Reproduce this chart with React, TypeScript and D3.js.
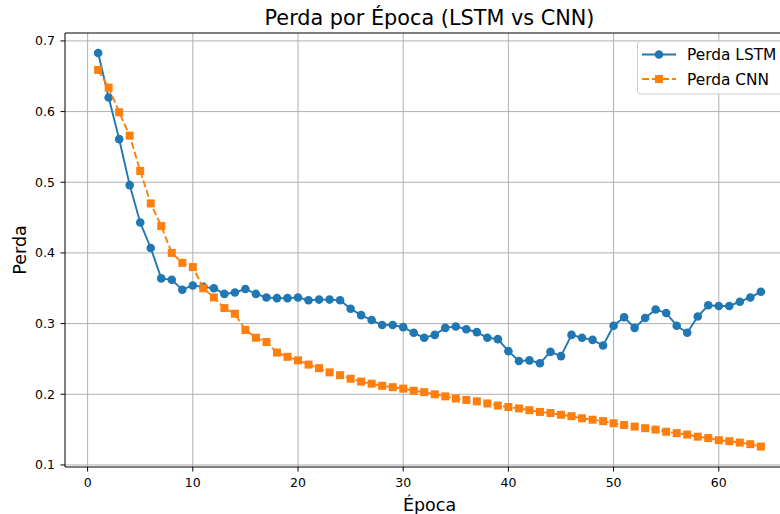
import React, { useEffect, useRef } from "react";
import * as d3 from "d3";

// epochs 1..64
const epochs = d3.range(1, 65);

const lstmLoss = [
  0.683, 0.620, 0.561, 0.496, 0.443, 0.407, 0.364, 0.362, 0.348, 0.354,
  0.352, 0.350, 0.342, 0.344, 0.349, 0.342, 0.337, 0.336, 0.336, 0.337,
  0.333, 0.334, 0.334, 0.333, 0.321, 0.312, 0.305, 0.298, 0.298, 0.295,
  0.287, 0.280, 0.284, 0.294, 0.296, 0.292, 0.288, 0.280, 0.278, 0.261,
  0.247, 0.248, 0.244, 0.260, 0.254, 0.284, 0.280, 0.277, 0.269, 0.297,
  0.309, 0.294, 0.308, 0.320, 0.315, 0.297, 0.287, 0.310, 0.326, 0.325,
  0.325, 0.331, 0.337, 0.345,
];

const cnnLoss = [
  0.659, 0.634, 0.599, 0.566, 0.516, 0.470, 0.438, 0.400, 0.386, 0.380,
  0.350, 0.337, 0.322, 0.314, 0.291, 0.280, 0.274, 0.259, 0.253, 0.248,
  0.242, 0.237, 0.231, 0.227, 0.222, 0.218, 0.215, 0.212, 0.210, 0.208,
  0.205, 0.203, 0.200, 0.197, 0.194, 0.192, 0.190, 0.187, 0.184, 0.182,
  0.180, 0.1775, 0.175, 0.1735, 0.171, 0.169, 0.166, 0.164, 0.162, 0.159,
  0.1565, 0.1543, 0.152, 0.150, 0.147, 0.145, 0.143, 0.140, 0.138, 0.135,
  0.1336, 0.1317, 0.1294, 0.126,
];

const xTicks = [0, 10, 20, 30, 40, 50, 60];
const yTicks = [0.1, 0.2, 0.3, 0.4, 0.5, 0.6, 0.7];

const BLUE = "#1f77b4";
const ORANGE = "#ff7f0e";
const FONT = "DejaVu Sans, sans-serif";

const App = () => {
  const ref = useRef<SVGSVGElement>(null);

  useEffect(() => {
    document.body.style.margin = "0";
    const svg = d3.select(ref.current);
    svg.selectAll("*").remove();

    const width = 780;
    const height = 514;
    const plot = { left: 65, right: 794, top: 33, bottom: 467 };

    const x = d3.scaleLinear().domain([-2.15, 67.15]).range([plot.left, plot.right]);
    const y = d3.scaleLinear().domain([0.0971, 0.7112]).range([plot.bottom, plot.top]);

    svg.attr("width", width).attr("height", height);

    // grid
    const grid = svg.append("g");
    grid.selectAll("line.gx")
      .data(xTicks)
      .enter()
      .append("line")
      .attr("x1", d => x(d))
      .attr("x2", d => x(d))
      .attr("y1", plot.top)
      .attr("y2", plot.bottom)
      .attr("stroke", "#b0b0b0")
      .attr("stroke-width", 1);
    grid.selectAll("line.gy")
      .data(yTicks)
      .enter()
      .append("line")
      .attr("x1", plot.left)
      .attr("x2", plot.right)
      .attr("y1", d => y(d))
      .attr("y2", d => y(d))
      .attr("stroke", "#b0b0b0")
      .attr("stroke-width", 1);

    // lines
    const line = d3.line<number>()
      .x((_, i) => x(epochs[i]))
      .y(d => y(d));

    svg.append("path")
      .datum(lstmLoss)
      .attr("d", line)
      .attr("fill", "none")
      .attr("stroke", BLUE)
      .attr("stroke-width", 1.9);

    svg.selectAll("circle.lstm")
      .data(lstmLoss)
      .enter()
      .append("circle")
      .attr("cx", (_, i) => x(epochs[i]))
      .attr("cy", d => y(d))
      .attr("r", 4.3)
      .attr("fill", BLUE);

    svg.append("path")
      .datum(cnnLoss)
      .attr("d", line)
      .attr("fill", "none")
      .attr("stroke", ORANGE)
      .attr("stroke-width", 1.9)
      .attr("stroke-dasharray", "7,3");

    const sq = 8;
    svg.selectAll("rect.cnn")
      .data(cnnLoss)
      .enter()
      .append("rect")
      .attr("x", (_, i) => x(epochs[i]) - sq / 2)
      .attr("y", d => y(d) - sq / 2)
      .attr("width", sq)
      .attr("height", sq)
      .attr("fill", ORANGE);

    // spines
    svg.append("line")
      .attr("x1", plot.left).attr("x2", plot.right)
      .attr("y1", plot.bottom).attr("y2", plot.bottom)
      .attr("stroke", "black").attr("stroke-width", 1);
    svg.append("line")
      .attr("x1", plot.left).attr("x2", plot.right)
      .attr("y1", plot.top).attr("y2", plot.top)
      .attr("stroke", "black").attr("stroke-width", 1);
    svg.append("line")
      .attr("x1", plot.left).attr("x2", plot.left)
      .attr("y1", plot.top).attr("y2", plot.bottom)
      .attr("stroke", "black").attr("stroke-width", 1);

    // ticks
    xTicks.forEach(t => {
      svg.append("line")
        .attr("x1", x(t)).attr("x2", x(t))
        .attr("y1", plot.bottom).attr("y2", plot.bottom + 4.5)
        .attr("stroke", "black");
      svg.append("text")
        .attr("x", x(t))
        .attr("y", plot.bottom + 20)
        .attr("text-anchor", "middle")
        .attr("font-family", FONT)
        .attr("font-size", 12.5)
        .text(t);
    });
    yTicks.forEach(t => {
      svg.append("line")
        .attr("x1", plot.left - 4.5).attr("x2", plot.left)
        .attr("y1", y(t)).attr("y2", y(t))
        .attr("stroke", "black");
      svg.append("text")
        .attr("x", plot.left - 10)
        .attr("y", y(t) + 4.5)
        .attr("text-anchor", "end")
        .attr("font-family", FONT)
        .attr("font-size", 12.5)
        .text(d3.format(".1f")(t));
    });

    // labels
    svg.append("text")
      .attr("x", (plot.left + plot.right) / 2)
      .attr("y", 25)
      .attr("text-anchor", "middle")
      .attr("font-family", FONT)
      .attr("font-size", 20.8)
      .text("Perda por Época (LSTM vs CNN)");
    svg.append("text")
      .attr("x", (plot.left + plot.right) / 2)
      .attr("y", 511)
      .attr("text-anchor", "middle")
      .attr("font-family", FONT)
      .attr("font-size", 17.5)
      .text("Época");
    svg.append("text")
      .attr("transform", `translate(26,${(plot.top + plot.bottom) / 2}) rotate(-90)`)
      .attr("text-anchor", "middle")
      .attr("font-family", FONT)
      .attr("font-size", 17.5)
      .text("Perda");

    // legend
    const lg = svg.append("g");
    lg.append("rect")
      .attr("x", 637.5).attr("y", 41)
      .attr("width", 160).attr("height", 53)
      .attr("rx", 3)
      .attr("fill", "white").attr("fill-opacity", 0.8)
      .attr("stroke", "#cccccc");
    const items = [
      { label: "Perda LSTM", color: BLUE, dash: null, shape: "circle" },
      { label: "Perda CNN", color: ORANGE, dash: "7,3", shape: "square" },
    ];
    items.forEach((it, i) => {
      const cy = 54.5 + i * 24.5;
      lg.append("line")
        .attr("x1", 642).attr("x2", 676)
        .attr("y1", cy).attr("y2", cy)
        .attr("stroke", it.color)
        .attr("stroke-width", 1.9)
        .attr("stroke-dasharray", it.dash);
      if (it.shape === "circle") {
        lg.append("circle").attr("cx", 659).attr("cy", cy).attr("r", 4.3).attr("fill", it.color);
      } else {
        lg.append("rect").attr("x", 659 - sq / 2).attr("y", cy - sq / 2)
          .attr("width", sq).attr("height", sq).attr("fill", it.color);
      }
      lg.append("text")
        .attr("x", 687)
        .attr("y", cy + 5.5)
        .attr("font-family", FONT)
        .attr("font-size", 15.4)
        .text(it.label);
    });
  }, []);

  return <svg ref={ref} style={{ display: "block" }}></svg>;
};

export default App;
